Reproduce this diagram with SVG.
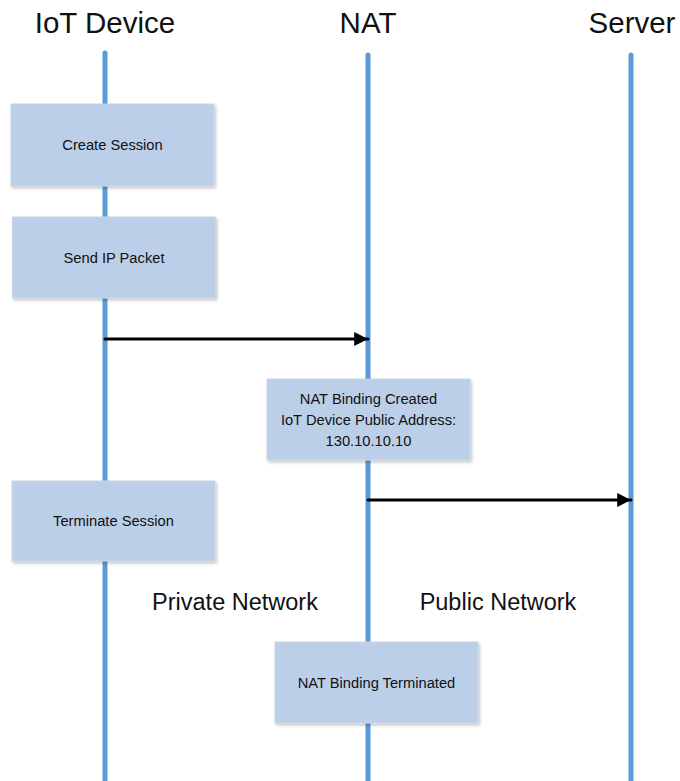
<svg xmlns="http://www.w3.org/2000/svg" width="680" height="781" viewBox="0 0 680 781">
  <style>
    .title { font-family: "Liberation Sans", Arial, sans-serif; font-size: 29.5px; fill: #111; text-anchor: middle; }
    .region { font-family: "Liberation Sans", Arial, sans-serif; font-size: 23.5px; fill: #111; text-anchor: middle; }
    .lbl { font-family: "Liberation Sans", Arial, sans-serif; font-size: 14.7px; fill: #111; text-anchor: middle; }
    .life { stroke: #5b9bd5; stroke-width: 5; stroke-linecap: round; fill: none; }
    .box { fill: #bccfe8; stroke: #c9d6e6; stroke-width: 1; filter: url(#shadow); }
    .msg { stroke: #000; stroke-width: 3; stroke-linecap: round; fill: none; marker-end: url(#head); }
  </style>
  <defs>
    <filter id="shadow" x="-10%" y="-10%" width="130%" height="140%">
      <feDropShadow dx="1.5" dy="2" stdDeviation="1.5" flood-color="#000" flood-opacity="0.22"/>
    </filter>
    <marker id="head" viewBox="0 0 10 10" refX="10" refY="5" markerWidth="5.2" markerHeight="4.6" orient="auto" markerUnits="strokeWidth">
      <path d="M0,0 L10,5 L0,10 Z" fill="#000"/>
    </marker>
  </defs>

  <rect width="680" height="781" fill="#fff"/>

  <!-- participant headers -->
  <text class="title" x="105" y="33">IoT Device</text>
  <text class="title" x="368" y="33">NAT</text>
  <text class="title" x="632" y="33">Server</text>

  <!-- lifelines -->
  <g id="lifelines">
    <line class="life" x1="105" y1="53" x2="105" y2="790"/>
    <line class="life" x1="368" y1="55" x2="368" y2="790"/>
    <line class="life" x1="631" y1="55" x2="631" y2="790"/>
  </g>

  <!-- activity boxes -->
  <g id="create-session">
    <rect class="box" x="11" y="104" width="203" height="82"/>
    <text class="lbl" x="112.5" y="150">Create Session</text>
  </g>
  <g id="send-ip-packet">
    <rect class="box" x="12.5" y="217" width="203" height="81"/>
    <text class="lbl" x="114" y="263">Send IP Packet</text>
  </g>
  <g id="nat-binding-created">
    <rect class="box" x="267" y="379" width="203" height="81"/>
    <text class="lbl" x="368.5" y="404">NAT Binding Created</text>
    <text class="lbl" x="368.5" y="425">IoT Device Public Address:</text>
    <text class="lbl" x="368.5" y="446">130.10.10.10</text>
  </g>
  <g id="terminate-session">
    <rect class="box" x="12" y="481" width="203" height="80"/>
    <text class="lbl" x="113.5" y="526">Terminate Session</text>
  </g>
  <g id="nat-binding-terminated">
    <rect class="box" x="275" y="642" width="203" height="81"/>
    <text class="lbl" x="376.5" y="688">NAT Binding Terminated</text>
  </g>

  <!-- messages -->
  <g id="connectors">
    <line class="msg" x1="105" y1="339" x2="368" y2="339"/>
    <line class="msg" x1="368" y1="500" x2="631" y2="500"/>
  </g>

  <!-- network regions -->
  <text class="region" x="235" y="610">Private Network</text>
  <text class="region" x="498" y="610">Public Network</text>
</svg>
